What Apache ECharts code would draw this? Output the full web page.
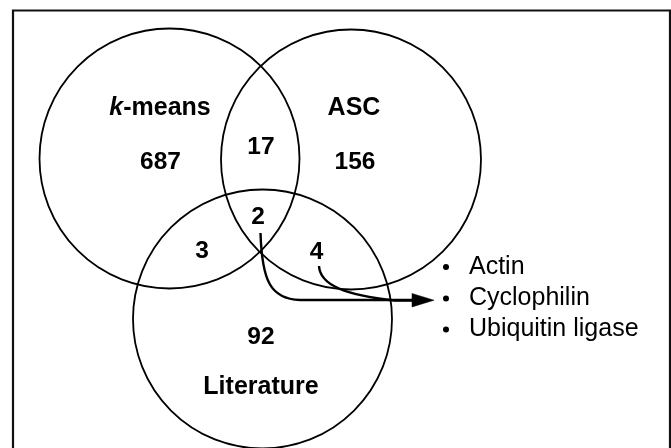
<!DOCTYPE html>
<html>
<head>
<meta charset="utf-8">
<script src="https://cdn.jsdelivr.net/npm/echarts@6/dist/echarts.min.js"></script>
<style>
html,body{margin:0;padding:0;background:#fff;}
#main{width:671px;height:448px;}
</style>
</head>
<body>
<div id="main"></div>
<script>
// ---- data ----
const setNames = ['k-means', 'ASC', 'Literature'];
const regionNames = ['k-means only', 'ASC only', 'Literature only', 'k-means ∩ ASC', 'k-means ∩ Literature', 'ASC ∩ Literature', 'all three'];
const regionCounts = [687, 156, 92, 17, 3, 4, 2];
const sharedGenes = ['Actin', 'Cyclophilin', 'Ubiquitin ligase'];

// ---- layout (data-space positions, axes are in px units) ----
const circleLayout = [[169.5, 158.5, 130], [351, 159.5, 130], [262.5, 319, 129.5]];
const setLabelLayout = [[160, 108], [354, 108], [261, 387]];
const regionLabelLayout = [[160.5, 162], [355, 162], [261, 337], [261, 147], [202, 251], [316.5, 252.5], [258, 217]];
const listLayout = {bulletX: 446, textX: 469, y: [267, 298.5, 329.5]};
const arrowPaths = [
  [[260.5, 233], [262, 280], [270, 299], [300, 300], [414, 300]],
  [[319, 266], [320, 285], [345, 295], [395, 300.5], [414, 300.5]]
];
const arrowHead = [[412, 293.5], [434, 300.2], [412, 307]];

const FONT = '"Liberation Sans", Arial, Helvetica, sans-serif';

const chart = echarts.init(document.getElementById('main'), null, {renderer: 'canvas'});

const option = {
  backgroundColor: '#fff',
  animation: false,
  grid: {left: 0, right: 0, top: 0, bottom: 0},
  xAxis: {type: 'value', min: 0, max: 671, show: false},
  yAxis: {type: 'value', min: 0, max: 448, inverse: true, show: false},
  graphic: [{
    type: 'rect',
    shape: {x: 13, y: 10.5, width: 657, height: 460},
    style: {fill: 'none', stroke: '#111', lineWidth: 2.2}
  }],
  series: [
    {
      type: 'custom',
      name: 'sets',
      coordinateSystem: 'cartesian2d',
      data: setNames.map((n, i) => [circleLayout[i][0], circleLayout[i][1], circleLayout[i][2], n]),
      renderItem: function (params, api) {
        const c = api.coord([api.value(0), api.value(1)]);
        const r = api.size([api.value(2), 0])[0];
        return {
          type: 'circle',
          shape: {cx: c[0], cy: c[1], r: r},
          style: {fill: 'none', stroke: '#000', lineWidth: 1.8}
        };
      },
      silent: true
    },
    {
      type: 'custom',
      name: 'setLabels',
      coordinateSystem: 'cartesian2d',
      data: setNames.map((n, i) => [setLabelLayout[i][0], setLabelLayout[i][1], n]),
      renderItem: function (params, api) {
        const c = api.coord([api.value(0), api.value(1)]);
        const name = setNames[params.dataIndex];
        const txt = name === 'k-means' ? '{i|k}{b|-means}' : '{b|' + name + '}';
        return {
          type: 'text',
          x: c[0], y: c[1],
          style: {
            text: txt,
            align: 'center', verticalAlign: 'middle',
            rich: {
              i: {fontFamily: FONT, fontSize: 25, fontWeight: 'bold', fontStyle: 'italic', fill: '#000'},
              b: {fontFamily: FONT, fontSize: 25, fontWeight: 'bold', fill: '#000'}
            }
          }
        };
      },
      silent: true
    },
    {
      type: 'custom',
      name: 'counts',
      coordinateSystem: 'cartesian2d',
      data: regionCounts.map((v, i) => [regionLabelLayout[i][0], regionLabelLayout[i][1], v]),
      renderItem: function (params, api) {
        const c = api.coord([api.value(0), api.value(1)]);
        return {
          type: 'text',
          x: c[0], y: c[1],
          style: {
            text: String(api.value(2)),
            align: 'center', verticalAlign: 'middle',
            font: 'bold 24.5px ' + FONT,
            fill: '#000'
          }
        };
      },
      silent: true
    },
    {
      type: 'custom',
      name: 'arrows',
      coordinateSystem: 'cartesian2d',
      data: arrowPaths.map((p, i) => [i]),
      renderItem: function (params, api) {
        const p = arrowPaths[params.dataIndex].map(q => api.coord(q));
        const children = [{
          type: 'path',
          shape: {
            pathData: 'M' + p[0][0] + ' ' + p[0][1] +
              ' C' + p[1][0] + ' ' + p[1][1] + ' ' + p[2][0] + ' ' + p[2][1] + ' ' + p[3][0] + ' ' + p[3][1] +
              ' L' + p[4][0] + ' ' + p[4][1]
          },
          style: {fill: 'none', stroke: '#000', lineWidth: 2.4}
        }];
        if (params.dataIndex === 0) {
          children.push({
            type: 'polygon',
            shape: {points: arrowHead.map(q => api.coord(q))},
            style: {fill: '#000', stroke: '#000', lineWidth: 0.5}
          });
        }
        return {type: 'group', children: children};
      },
      silent: true
    },
    {
      type: 'custom',
      name: 'sharedList',
      coordinateSystem: 'cartesian2d',
      data: sharedGenes.map((g, i) => [listLayout.textX, listLayout.y[i], g]),
      renderItem: function (params, api) {
        const t = api.coord([api.value(0), api.value(1)]);
        const b = api.coord([listLayout.bulletX, api.value(1)]);
        return {
          type: 'group',
          children: [
            {type: 'circle', shape: {cx: b[0], cy: b[1], r: 3}, style: {fill: '#000'}},
            {
              type: 'text', x: t[0], y: t[1],
              style: {
                text: sharedGenes[params.dataIndex],
                align: 'left', verticalAlign: 'middle',
                font: '25px ' + FONT, fill: '#000'
              }
            }
          ]
        };
      },
      silent: true
    }
  ]
};
chart.setOption(option);
</script>
</body>
</html>
